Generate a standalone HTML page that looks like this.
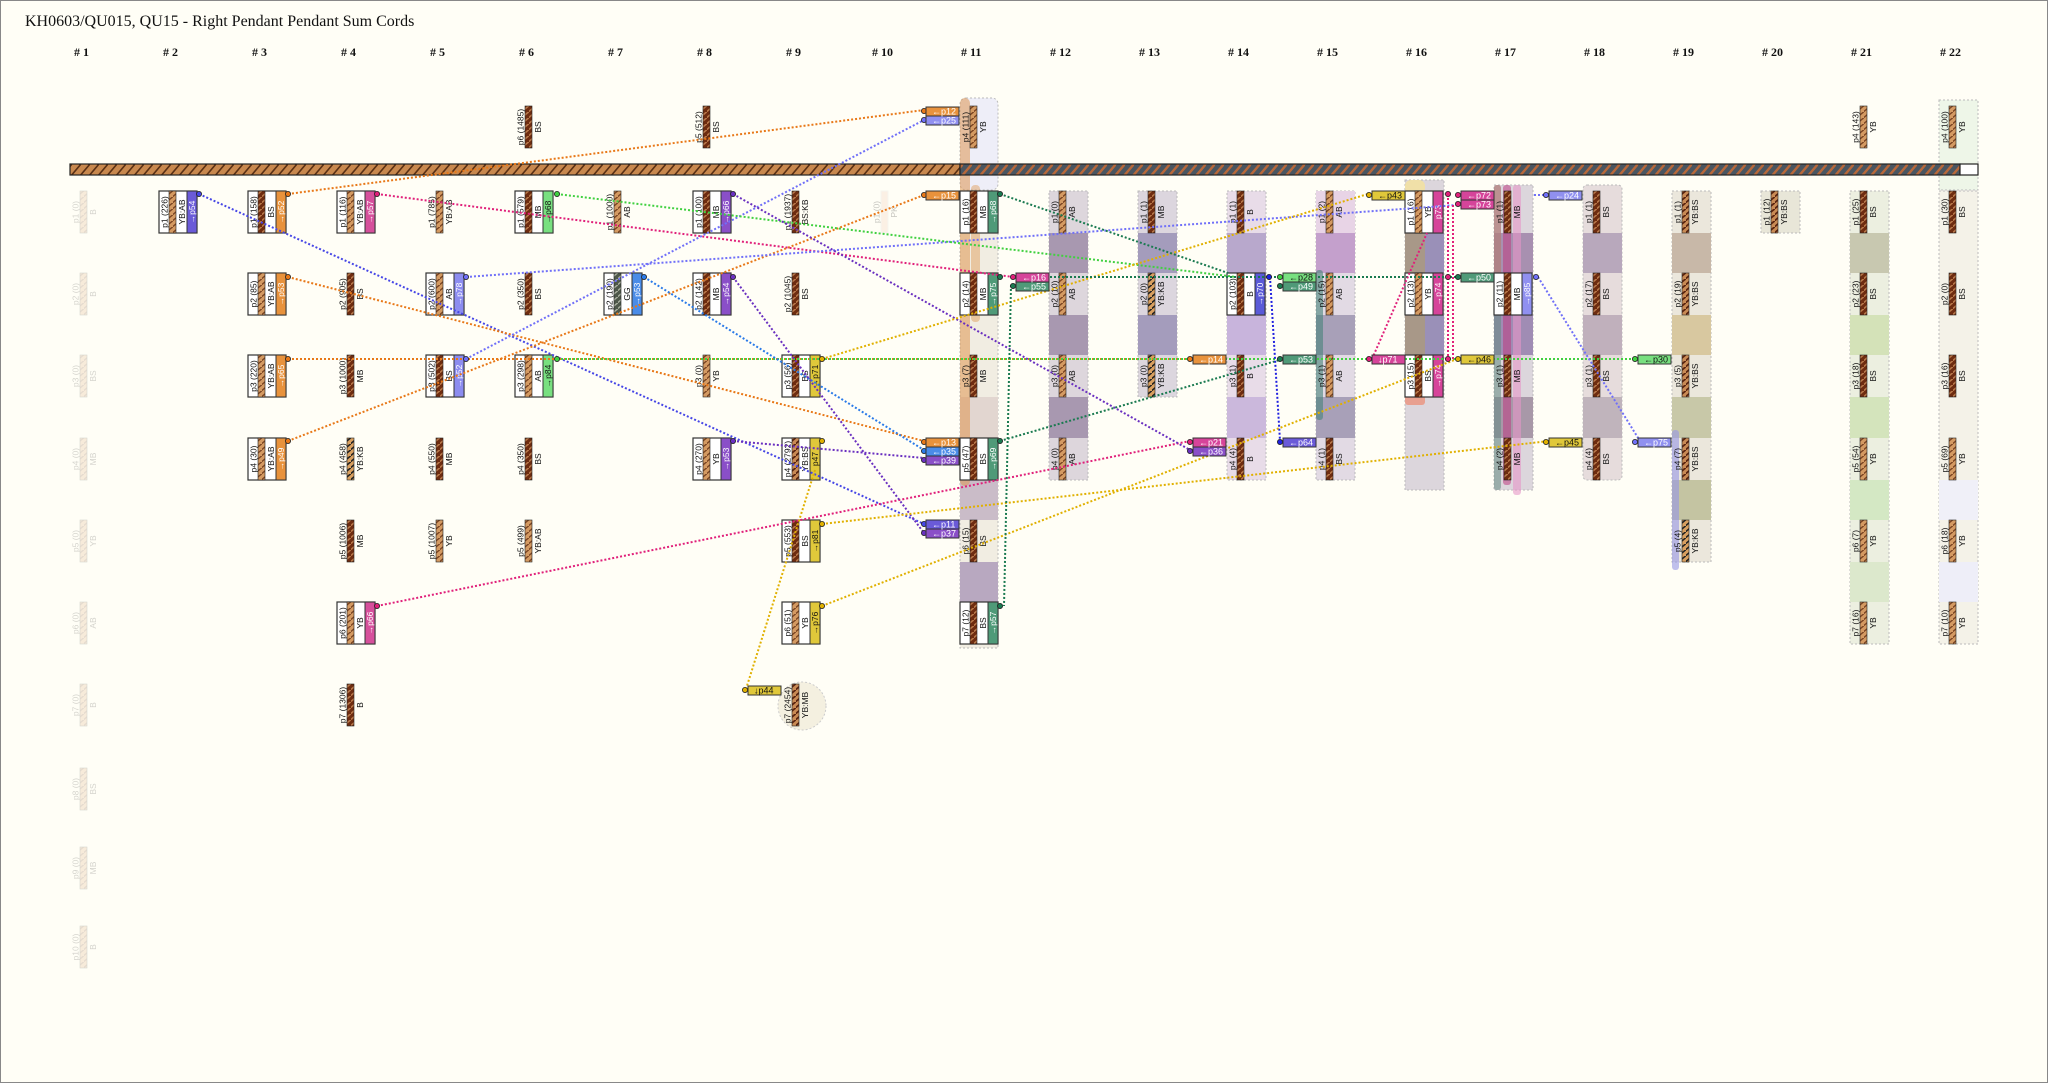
<!DOCTYPE html>
<html><head><meta charset="utf-8"><style>
html,body{margin:0;padding:0;background:#fffef6;}
svg{display:block}
text{font-family:"Liberation Sans",sans-serif;font-size:8.5px;text-anchor:middle;fill:#111}
.w{fill:#fff}
.t{text-anchor:start;fill:#fff;font-size:9px}
.tk{text-anchor:start;fill:#111;font-size:9px}
.h{font-family:"Liberation Serif",serif;font-size:12px;font-weight:bold;text-anchor:start}
.ti{font-family:"Liberation Serif",serif;font-size:16px;text-anchor:start}
.ln{fill:none;stroke-width:2;stroke-dasharray:2 2}
</style></head><body>
<svg width="2048" height="1083" viewBox="0 0 2048 1083" xmlns="http://www.w3.org/2000/svg">
<defs>
<pattern id="pD" width="7" height="6" patternUnits="userSpaceOnUse"><rect width="7" height="6" fill="#6e2c10"/><path d="M-2,7 L9,-2" stroke="#b8784a" stroke-width="1.6"/></pattern>
<pattern id="pL" width="7" height="6" patternUnits="userSpaceOnUse"><rect width="7" height="6" fill="#d49a62"/><path d="M-2,7 L9,-2" stroke="#7a4422" stroke-width="1.4"/></pattern>
<pattern id="pK" width="7" height="6" patternUnits="userSpaceOnUse"><rect width="7" height="6" fill="#d9a060"/><path d="M-2,7 L9,-2" stroke="#222" stroke-width="1.6"/></pattern>
<pattern id="pG" width="7" height="6" patternUnits="userSpaceOnUse"><rect width="7" height="6" fill="#4e584a"/><path d="M-2,7 L9,-2" stroke="#aab0a0" stroke-width="1.4"/></pattern>
<pattern id="pM" width="7" height="6" patternUnits="userSpaceOnUse"><rect width="7" height="6" fill="#c98b55"/><path d="M-2,7 L9,-2" stroke="#5a2410" stroke-width="1.8"/></pattern>
<pattern id="c1" width="9" height="11" patternUnits="userSpaceOnUse"><rect width="9" height="11" fill="#c8884e"/><path d="M-2,12 L9,-1 M7,12 L18,-1" stroke="#5a3014" stroke-width="1.6"/></pattern>
<pattern id="c2" width="9" height="11" patternUnits="userSpaceOnUse"><rect width="9" height="11" fill="#4a5560"/><path d="M-2,12 L9,-1 M7,12 L18,-1" stroke="#b8683a" stroke-width="2.4"/></pattern>
<rect id="bx" width="38" height="42" fill="#fff" stroke="#333" stroke-width="1.2"/>
<rect id="cD" x="10" width="7" height="42" fill="url(#pD)" stroke="#222" stroke-width=".6"/>
<rect id="cL" x="10" width="7" height="42" fill="url(#pL)" stroke="#222" stroke-width=".6"/>
<rect id="cK" x="10" width="7" height="42" fill="url(#pK)" stroke="#222" stroke-width=".6"/>
<rect id="cG" x="10" width="7" height="42" fill="url(#pG)" stroke="#222" stroke-width=".6"/>
<rect id="cM" x="10" width="7" height="42" fill="url(#pM)" stroke="#222" stroke-width=".6"/>
</defs>
<rect x="0.5" y="0.5" width="2047" height="1082" fill="#fffef6" stroke="#888"/>
<text class="ti" x="25" y="26">KH0603/QU015, QU15 - Right Pendant Pendant Sum Cords</text>
<g class="hd">
<text class="h" x="74" y="56"># 1</text><text class="h" x="163" y="56"># 2</text><text class="h" x="252" y="56"># 3</text><text class="h" x="341" y="56"># 4</text><text class="h" x="430" y="56"># 5</text><text class="h" x="519" y="56"># 6</text><text class="h" x="608" y="56"># 7</text><text class="h" x="697" y="56"># 8</text><text class="h" x="786" y="56"># 9</text><text class="h" x="872" y="56"># 10</text><text class="h" x="961" y="56"># 11</text><text class="h" x="1050" y="56"># 12</text><text class="h" x="1139" y="56"># 13</text><text class="h" x="1228" y="56"># 14</text><text class="h" x="1317" y="56"># 15</text><text class="h" x="1406" y="56"># 16</text><text class="h" x="1495" y="56"># 17</text><text class="h" x="1584" y="56"># 18</text><text class="h" x="1673" y="56"># 19</text><text class="h" x="1762" y="56"># 20</text><text class="h" x="1851" y="56"># 21</text><text class="h" x="1940" y="56"># 22</text>
</g>

<!-- backgrounds -->
<g>
<rect x="960" y="98" width="38" height="92" fill="#eeeef8" stroke="#bbb" stroke-dasharray="2 2" rx="6"/>
<rect x="960" y="191" width="38" height="457" fill="#f1ede2" stroke="#bbb" stroke-dasharray="2 2"/>
<rect x="960" y="397" width="38" height="41" fill="#e2d6d0"/><rect x="960" y="480" width="38" height="40" fill="#cabcc8"/><rect x="960" y="562" width="38" height="40" fill="#b8a8c0"/>
<rect x="960" y="98" width="10" height="388" rx="5" fill="rgba(222,150,80,.55)"/>
<rect x="971" y="185" width="9" height="137" rx="4" fill="rgba(222,150,80,.45)"/>

<rect x="1049" y="191" width="39" height="289" fill="#ddd6dc" stroke="#bbb" stroke-dasharray="2 2"/>
<rect x="1049" y="233" width="39" height="40" fill="#a898b0"/><rect x="1049" y="315" width="39" height="40" fill="#a898b0"/><rect x="1049" y="397" width="39" height="41" fill="#a898b0"/>
<rect x="1138" y="191" width="39" height="206" fill="#dcd6de" stroke="#bbb" stroke-dasharray="2 2"/>
<rect x="1138" y="233" width="39" height="40" fill="#a49cbc"/><rect x="1138" y="315" width="39" height="40" fill="#a49cbc"/>
<rect x="1227" y="191" width="39" height="289" fill="#e8dce8" stroke="#bbb" stroke-dasharray="2 2"/>
<rect x="1227" y="233" width="39" height="40" fill="#b8a8cc"/><rect x="1227" y="315" width="39" height="40" fill="#c8b4dc"/><rect x="1227" y="397" width="39" height="41" fill="#cbb8dc"/>
<rect x="1316" y="191" width="39" height="289" fill="#e2dae4" stroke="#bbb" stroke-dasharray="2 2"/>
<rect x="1316" y="191" width="39" height="42" fill="#e8d4e6"/>
<rect x="1316" y="233" width="39" height="40" fill="#c4a0cc"/><rect x="1316" y="315" width="39" height="40" fill="#a8a0b8"/><rect x="1316" y="397" width="39" height="41" fill="#a8a0b8"/>
<rect x="1316" y="270" width="7" height="150" rx="3" fill="rgba(70,130,120,.6)"/>
<rect x="1405" y="180" width="39" height="310" fill="#dcd6dc" stroke="#bbb" stroke-dasharray="2 2"/>
<rect x="1405" y="233" width="20" height="40" fill="#a89888"/><rect x="1425" y="233" width="19" height="40" fill="#9a90b8"/>
<rect x="1405" y="315" width="20" height="40" fill="#a89888"/><rect x="1425" y="315" width="19" height="40" fill="#9a90b8"/>
<rect x="1405" y="180" width="20" height="14" rx="6" fill="#f0e0a8"/>
<rect x="1405" y="395" width="20" height="10" rx="3" fill="#e8a090"/>
<rect x="1494" y="185" width="39" height="305" fill="#dcd6dc" stroke="#bbb" stroke-dasharray="2 2"/>
<rect x="1494" y="233" width="39" height="40" fill="#a890b0"/><rect x="1494" y="315" width="39" height="40" fill="#a08cb4"/><rect x="1494" y="397" width="39" height="41" fill="#a898a8"/>
<rect x="1494" y="185" width="7" height="305" rx="3" fill="rgba(100,140,130,.55)"/>
<rect x="1494" y="185" width="7" height="90" rx="3" fill="rgba(220,120,120,.5)"/>
<rect x="1503" y="185" width="8" height="300" rx="3" fill="rgba(190,60,130,.55)"/>
<rect x="1513" y="185" width="8" height="310" rx="3" fill="rgba(230,150,200,.6)"/>
<rect x="1583" y="185" width="39" height="295" fill="#e6dcdc" stroke="#bbb" stroke-dasharray="2 2" rx="4"/>
<rect x="1583" y="233" width="39" height="40" fill="#b8a8bc"/><rect x="1583" y="315" width="39" height="40" fill="#c0b0bc"/><rect x="1583" y="397" width="39" height="41" fill="#c0b4bc"/>
<rect x="1672" y="191" width="39" height="371" fill="#ebe7dc" stroke="#bbb" stroke-dasharray="2 2"/>
<rect x="1672" y="233" width="39" height="40" fill="#c8b8a8"/><rect x="1672" y="315" width="39" height="40" fill="#d8c8a0"/><rect x="1672" y="397" width="39" height="41" fill="#c8c8a8"/><rect x="1672" y="480" width="39" height="40" fill="#c4c4a2"/>
<rect x="1672" y="430" width="7" height="140" rx="3" fill="rgba(150,150,230,.6)"/>
<rect x="1761" y="191" width="39" height="42" fill="#e8e6d8" stroke="#bbb" stroke-dasharray="2 2"/>
<rect x="1850" y="191" width="39" height="453" fill="#ecefe0" stroke="#bbb" stroke-dasharray="2 2"/>
<rect x="1850" y="233" width="39" height="40" fill="#c8c8b0"/><rect x="1850" y="315" width="39" height="40" fill="#d4e2b8"/><rect x="1850" y="397" width="39" height="41" fill="#d4e4bc"/><rect x="1850" y="480" width="39" height="40" fill="#d4e8c4"/><rect x="1850" y="562" width="39" height="40" fill="#dce8cc"/>
<rect x="1939" y="100" width="39" height="90" fill="#eef6e8" stroke="#bbb" stroke-dasharray="2 2"/>
<rect x="1939" y="191" width="39" height="453" fill="#f4f2e8" stroke="#bbb" stroke-dasharray="2 2"/>
<rect x="1939" y="480" width="39" height="40" fill="#f0f0f8"/><rect x="1939" y="562" width="39" height="40" fill="#eeeef8"/>
<circle cx="802" cy="706" r="24" fill="#f4f0e0" stroke="#ccc" stroke-dasharray="2 2"/>
</g>

<!-- main cord -->
<rect x="70" y="164" width="890" height="11" fill="url(#c1)" stroke="#222" stroke-width="1.2"/>
<rect x="960" y="164" width="1000" height="11" fill="url(#c2)" stroke="#222" stroke-width="1.2"/>
<rect x="1960" y="164" width="18" height="11" fill="#fff" stroke="#222" stroke-width="1.2"/>

<!-- col1 faded -->
<g opacity=".18">
<g transform="translate(70,191)"><use href="#cL"/><text transform="translate(8.5,21)rotate(-90)">p1 (0)</text><text transform="translate(26,21)rotate(-90)">B</text></g>
<g transform="translate(70,273)"><use href="#cL"/><text transform="translate(8.5,21)rotate(-90)">p2 (0)</text><text transform="translate(26,21)rotate(-90)">B</text></g>
<g transform="translate(70,355)"><use href="#cL"/><text transform="translate(8.5,21)rotate(-90)">p3 (0)</text><text transform="translate(26,21)rotate(-90)">BS</text></g>
<g transform="translate(70,438)"><use href="#cL"/><text transform="translate(8.5,21)rotate(-90)">p4 (0)</text><text transform="translate(26,21)rotate(-90)">MB</text></g>
<g transform="translate(70,520)"><use href="#cL"/><text transform="translate(8.5,21)rotate(-90)">p5 (0)</text><text transform="translate(26,21)rotate(-90)">YB</text></g>
<g transform="translate(70,602)"><use href="#cL"/><text transform="translate(8.5,21)rotate(-90)">p6 (0)</text><text transform="translate(26,21)rotate(-90)">AB</text></g>
<g transform="translate(70,684)"><use href="#cL"/><text transform="translate(8.5,21)rotate(-90)">p7 (0)</text><text transform="translate(26,21)rotate(-90)">B</text></g>
<g transform="translate(70,768)"><use href="#cL"/><text transform="translate(8.5,21)rotate(-90)">p8 (0)</text><text transform="translate(26,21)rotate(-90)">BS</text></g>
<g transform="translate(70,847)"><use href="#cL"/><text transform="translate(8.5,21)rotate(-90)">p9 (0)</text><text transform="translate(26,21)rotate(-90)">MB</text></g>
<g transform="translate(70,926)"><use href="#cL"/><text transform="translate(8.5,21)rotate(-90)">p10 (0)</text><text transform="translate(26,21)rotate(-90)">B</text></g>
</g>
<g opacity=".25" transform="translate(871,191)"><rect x="10" width="7" height="42" fill="#f0c8b0" stroke="#ddd"/><text transform="translate(8.5,21)rotate(-90)">p1 (0)</text><text transform="translate(26,21)rotate(-90)">PK</text></g>

<!-- col2 -->
<g transform="translate(159,191)"><use href="#bx"/><use href="#cL"/><rect x="28" width="10" height="42" fill="#6a5ad8" stroke="#333"/><text transform="translate(8.5,21)rotate(-90)">p1 (226)</text><text transform="translate(26,21)rotate(-90)">YB:AB</text><text class="w" transform="translate(36,21)rotate(-90)">→p54</text></g>
<!-- col3 -->
<g transform="translate(248,191)"><use href="#bx"/><use href="#cD"/><rect x="28" width="10" height="42" fill="#e8923c" stroke="#333"/><text transform="translate(8.5,21)rotate(-90)">p1 (158)</text><text transform="translate(26,21)rotate(-90)">BS</text><text class="w" transform="translate(36,21)rotate(-90)">→p52</text></g>
<g transform="translate(248,273)"><use href="#bx"/><use href="#cL"/><rect x="28" width="10" height="42" fill="#e8923c" stroke="#333"/><text transform="translate(8.5,21)rotate(-90)">p2 (85)</text><text transform="translate(26,21)rotate(-90)">YB:AB</text><text class="w" transform="translate(36,21)rotate(-90)">→p53</text></g>
<g transform="translate(248,355)"><use href="#bx"/><use href="#cL"/><rect x="28" width="10" height="42" fill="#e8923c" stroke="#333"/><text transform="translate(8.5,21)rotate(-90)">p3 (220)</text><text transform="translate(26,21)rotate(-90)">YB:AB</text><text class="w" transform="translate(36,21)rotate(-90)">→p65</text></g>
<g transform="translate(248,438)"><use href="#bx"/><use href="#cL"/><rect x="28" width="10" height="42" fill="#e8923c" stroke="#333"/><text transform="translate(8.5,21)rotate(-90)">p4 (30)</text><text transform="translate(26,21)rotate(-90)">YB:AB</text><text class="w" transform="translate(36,21)rotate(-90)">→p49</text></g>
<!-- col4 -->
<g transform="translate(337,191)"><use href="#bx"/><use href="#cL"/><rect x="28" width="10" height="42" fill="#d6509c" stroke="#333"/><text transform="translate(8.5,21)rotate(-90)">p1 (116)</text><text transform="translate(26,21)rotate(-90)">YB:AB</text><text class="w" transform="translate(36,21)rotate(-90)">→p57</text></g>
<g transform="translate(337,273)"><use href="#cD"/><text transform="translate(8.5,21)rotate(-90)">p2 (905)</text><text transform="translate(26,21)rotate(-90)">BS</text></g>
<g transform="translate(337,355)"><use href="#cD"/><text transform="translate(8.5,21)rotate(-90)">p3 (1000)</text><text transform="translate(26,21)rotate(-90)">MB</text></g>
<g transform="translate(337,438)"><use href="#cK"/><text transform="translate(8.5,21)rotate(-90)">p4 (458)</text><text transform="translate(26,21)rotate(-90)">YB:KB</text></g>
<g transform="translate(337,520)"><use href="#cD"/><text transform="translate(8.5,21)rotate(-90)">p5 (1006)</text><text transform="translate(26,21)rotate(-90)">MB</text></g>
<g transform="translate(337,602)"><use href="#bx"/><use href="#cL"/><rect x="28" width="10" height="42" fill="#d6509c" stroke="#333"/><text transform="translate(8.5,21)rotate(-90)">p6 (201)</text><text transform="translate(26,21)rotate(-90)">YB</text><text class="w" transform="translate(36,21)rotate(-90)">→p66</text></g>
<g transform="translate(337,684)"><use href="#cD"/><text transform="translate(8.5,21)rotate(-90)">p7 (1306)</text><text transform="translate(26,21)rotate(-90)">B</text></g>
<!-- col5 -->
<g transform="translate(426,191)"><use href="#cL"/><text transform="translate(8.5,21)rotate(-90)">p1 (785)</text><text transform="translate(26,21)rotate(-90)">YB:AB</text></g>
<g transform="translate(426,273)"><use href="#bx"/><use href="#cL"/><rect x="28" width="10" height="42" fill="#8c8cf0" stroke="#333"/><text transform="translate(8.5,21)rotate(-90)">p2 (600)</text><text transform="translate(26,21)rotate(-90)">AB</text><text class="w" transform="translate(36,21)rotate(-90)">→p78</text></g>
<g transform="translate(426,355)"><use href="#bx"/><use href="#cD"/><rect x="28" width="10" height="42" fill="#8c8cf0" stroke="#333"/><text transform="translate(8.5,21)rotate(-90)">p3 (502)</text><text transform="translate(26,21)rotate(-90)">BS</text><text class="w" transform="translate(36,21)rotate(-90)">→p52</text></g>
<g transform="translate(426,438)"><use href="#cD"/><text transform="translate(8.5,21)rotate(-90)">p4 (550)</text><text transform="translate(26,21)rotate(-90)">MB</text></g>
<g transform="translate(426,520)"><use href="#cL"/><text transform="translate(8.5,21)rotate(-90)">p5 (1007)</text><text transform="translate(26,21)rotate(-90)">YB</text></g>
<!-- col6 -->
<g transform="translate(515,106)"><use href="#cD"/><text transform="translate(8.5,21)rotate(-90)">p6 (1485)</text><text transform="translate(26,21)rotate(-90)">BS</text></g>
<g transform="translate(515,191)"><use href="#bx"/><use href="#cD"/><rect x="28" width="10" height="42" fill="#78e080" stroke="#333"/><text transform="translate(8.5,21)rotate(-90)">p1 (579)</text><text transform="translate(26,21)rotate(-90)">MB</text><text transform="translate(36,21)rotate(-90)">→p68</text></g>
<g transform="translate(515,273)"><use href="#cD"/><text transform="translate(8.5,21)rotate(-90)">p2 (350)</text><text transform="translate(26,21)rotate(-90)">BS</text></g>
<g transform="translate(515,355)"><use href="#bx"/><use href="#cL"/><rect x="28" width="10" height="42" fill="#78e080" stroke="#333"/><text transform="translate(8.5,21)rotate(-90)">p3 (298)</text><text transform="translate(26,21)rotate(-90)">AB</text><text transform="translate(36,21)rotate(-90)">→p84</text></g>
<g transform="translate(515,438)"><use href="#cD"/><text transform="translate(8.5,21)rotate(-90)">p4 (350)</text><text transform="translate(26,21)rotate(-90)">BS</text></g>
<g transform="translate(515,520)"><use href="#cL"/><text transform="translate(8.5,21)rotate(-90)">p5 (499)</text><text transform="translate(26,21)rotate(-90)">YB:AB</text></g>
<!-- col7 -->
<g transform="translate(604,191)"><use href="#cL"/><text transform="translate(8.5,21)rotate(-90)">p1 (1000)</text><text transform="translate(26,21)rotate(-90)">AB</text></g>
<g transform="translate(604,273)"><use href="#bx"/><use href="#cG"/><rect x="28" width="10" height="42" fill="#4a8ce8" stroke="#333"/><text transform="translate(8.5,21)rotate(-90)">p2 (190)</text><text transform="translate(26,21)rotate(-90)">GG</text><text class="w" transform="translate(36,21)rotate(-90)">→p53</text></g>
<!-- col8 -->
<g transform="translate(693,106)"><use href="#cD"/><text transform="translate(8.5,21)rotate(-90)">p5 (512)</text><text transform="translate(26,21)rotate(-90)">BS</text></g>
<g transform="translate(693,191)"><use href="#bx"/><use href="#cD"/><rect x="28" width="10" height="42" fill="#8a4fc8" stroke="#333"/><text transform="translate(8.5,21)rotate(-90)">p1 (100)</text><text transform="translate(26,21)rotate(-90)">MB</text><text class="w" transform="translate(36,21)rotate(-90)">→p66</text></g>
<g transform="translate(693,273)"><use href="#bx"/><use href="#cD"/><rect x="28" width="10" height="42" fill="#8a4fc8" stroke="#333"/><text transform="translate(8.5,21)rotate(-90)">p2 (142)</text><text transform="translate(26,21)rotate(-90)">MB</text><text class="w" transform="translate(36,21)rotate(-90)">→p54</text></g>
<g transform="translate(693,355)"><use href="#cL"/><text transform="translate(8.5,21)rotate(-90)">p3 (0)</text><text transform="translate(26,21)rotate(-90)">YB</text></g>
<g transform="translate(693,438)"><use href="#bx"/><use href="#cL"/><rect x="28" width="10" height="42" fill="#8a4fc8" stroke="#333"/><text transform="translate(8.5,21)rotate(-90)">p4 (270)</text><text transform="translate(26,21)rotate(-90)">YB</text><text class="w" transform="translate(36,21)rotate(-90)">→p53</text></g>
<!-- col9 -->
<g transform="translate(782,191)"><use href="#cD"/><text transform="translate(8.5,21)rotate(-90)">p1 (1937)</text><text transform="translate(26,21)rotate(-90)">BS:KB</text></g>
<g transform="translate(782,273)"><use href="#cD"/><text transform="translate(8.5,21)rotate(-90)">p2 (1045)</text><text transform="translate(26,21)rotate(-90)">BS</text></g>
<g transform="translate(782,355)"><use href="#bx"/><use href="#cD"/><rect x="28" width="10" height="42" fill="#e0c83a" stroke="#333"/><text transform="translate(8.5,21)rotate(-90)">p3 (56)</text><text transform="translate(26,21)rotate(-90)">BS</text><text transform="translate(36,21)rotate(-90)">→p71</text></g>
<g transform="translate(782,438)"><use href="#bx"/><use href="#cM"/><rect x="28" width="10" height="42" fill="#e0c83a" stroke="#333"/><text transform="translate(8.5,21)rotate(-90)">p4 (2792)</text><text transform="translate(26,21)rotate(-90)">YB:BS</text><text transform="translate(36,21)rotate(-90)">p47</text></g>
<g transform="translate(782,520)"><use href="#bx"/><use href="#cD"/><rect x="28" width="10" height="42" fill="#e0c83a" stroke="#333"/><text transform="translate(8.5,21)rotate(-90)">p5 (553)</text><text transform="translate(26,21)rotate(-90)">BS</text><text transform="translate(36,21)rotate(-90)">→p81</text></g>
<g transform="translate(782,602)"><use href="#bx"/><use href="#cL"/><rect x="28" width="10" height="42" fill="#e0c83a" stroke="#333"/><text transform="translate(8.5,21)rotate(-90)">p6 (51)</text><text transform="translate(26,21)rotate(-90)">YB</text><text transform="translate(36,21)rotate(-90)">→p76</text></g>
<g transform="translate(782,684)"><use href="#cM"/><text transform="translate(8.5,21)rotate(-90)">p7 (2454)</text><text transform="translate(26,21)rotate(-90)">YB:MB</text></g>
<!-- col11 -->
<g transform="translate(960,106)"><use href="#cL"/><text transform="translate(8.5,21)rotate(-90)">p4 (111)</text><text transform="translate(26,21)rotate(-90)">YB</text></g>
<g transform="translate(960,191)"><use href="#bx"/><use href="#cD"/><rect x="28" width="10" height="42" fill="#4f9a78" stroke="#333"/><text transform="translate(8.5,21)rotate(-90)">p1 (16)</text><text transform="translate(26,21)rotate(-90)">MB</text><text class="w" transform="translate(36,21)rotate(-90)">→p68</text></g>
<g transform="translate(960,273)"><use href="#bx"/><use href="#cD"/><rect x="28" width="10" height="42" fill="#4f9a78" stroke="#333"/><text transform="translate(8.5,21)rotate(-90)">p2 (14)</text><text transform="translate(26,21)rotate(-90)">MB</text><text class="w" transform="translate(36,21)rotate(-90)">→p75</text></g>
<g transform="translate(960,355)"><use href="#cD"/><text transform="translate(8.5,21)rotate(-90)">p3 (7)</text><text transform="translate(26,21)rotate(-90)">MB</text></g>
<g transform="translate(960,438)"><use href="#bx"/><use href="#cD"/><rect x="28" width="10" height="42" fill="#4f9a78" stroke="#333"/><text transform="translate(8.5,21)rotate(-90)">p5 (47)</text><text transform="translate(26,21)rotate(-90)">BS</text><text class="w" transform="translate(36,21)rotate(-90)">→p69</text></g>
<g transform="translate(960,520)"><use href="#cD"/><text transform="translate(8.5,21)rotate(-90)">p6 (15)</text><text transform="translate(26,21)rotate(-90)">BS</text></g>
<g transform="translate(960,602)"><use href="#bx"/><use href="#cD"/><rect x="28" width="10" height="42" fill="#4f9a78" stroke="#333"/><text transform="translate(8.5,21)rotate(-90)">p7 (12)</text><text transform="translate(26,21)rotate(-90)">BS</text><text class="w" transform="translate(36,21)rotate(-90)">→p57</text></g>
<!-- col12 -->
<g transform="translate(1049,191)"><use href="#cL"/><text transform="translate(8.5,21)rotate(-90)">p1 (0)</text><text transform="translate(26,21)rotate(-90)">AB</text></g>
<g transform="translate(1049,273)"><use href="#cL"/><text transform="translate(8.5,21)rotate(-90)">p2 (10)</text><text transform="translate(26,21)rotate(-90)">AB</text></g>
<g transform="translate(1049,355)"><use href="#cL"/><text transform="translate(8.5,21)rotate(-90)">p3 (0)</text><text transform="translate(26,21)rotate(-90)">AB</text></g>
<g transform="translate(1049,438)"><use href="#cL"/><text transform="translate(8.5,21)rotate(-90)">p4 (0)</text><text transform="translate(26,21)rotate(-90)">AB</text></g>
<!-- col13 -->
<g transform="translate(1138,191)"><use href="#cD"/><text transform="translate(8.5,21)rotate(-90)">p1 (1)</text><text transform="translate(26,21)rotate(-90)">MB</text></g>
<g transform="translate(1138,273)"><use href="#cK"/><text transform="translate(8.5,21)rotate(-90)">p2 (0)</text><text transform="translate(26,21)rotate(-90)">YB:KB</text></g>
<g transform="translate(1138,355)"><use href="#cK"/><text transform="translate(8.5,21)rotate(-90)">p3 (0)</text><text transform="translate(26,21)rotate(-90)">YB:KB</text></g>
<!-- col14 -->
<g transform="translate(1227,191)"><use href="#cD"/><text transform="translate(8.5,21)rotate(-90)">p1 (1)</text><text transform="translate(26,21)rotate(-90)">B</text></g>
<g transform="translate(1227,273)"><use href="#bx"/><use href="#cD"/><rect x="28" width="10" height="42" fill="#5a5ad8" stroke="#333"/><text transform="translate(8.5,21)rotate(-90)">p2 (103)</text><text transform="translate(26,21)rotate(-90)">B</text><text class="w" transform="translate(36,21)rotate(-90)">→p70</text></g>
<g transform="translate(1227,355)"><use href="#cD"/><text transform="translate(8.5,21)rotate(-90)">p3 (1)</text><text transform="translate(26,21)rotate(-90)">B</text></g>
<g transform="translate(1227,438)"><use href="#cD"/><text transform="translate(8.5,21)rotate(-90)">p4 (4)</text><text transform="translate(26,21)rotate(-90)">B</text></g>
<!-- col15 -->
<g transform="translate(1316,191)"><use href="#cL"/><text transform="translate(8.5,21)rotate(-90)">p1 (2)</text><text transform="translate(26,21)rotate(-90)">AB</text></g>
<g transform="translate(1316,273)"><use href="#cL"/><text transform="translate(8.5,21)rotate(-90)">p2 (15)</text><text transform="translate(26,21)rotate(-90)">AB</text></g>
<g transform="translate(1316,355)"><use href="#cL"/><text transform="translate(8.5,21)rotate(-90)">p3 (1)</text><text transform="translate(26,21)rotate(-90)">AB</text></g>
<g transform="translate(1316,438)"><use href="#cD"/><text transform="translate(8.5,21)rotate(-90)">p4 (1)</text><text transform="translate(26,21)rotate(-90)">BS</text></g>
<!-- col16 -->
<g transform="translate(1405,191)"><use href="#bx"/><use href="#cL"/><rect x="28" width="10" height="42" fill="#d6449a" stroke="#333"/><text transform="translate(8.5,21)rotate(-90)">p1 (16)</text><text transform="translate(26,21)rotate(-90)">YB</text><text class="w" transform="translate(36,21)rotate(-90)">p73</text></g>
<g transform="translate(1405,273)"><use href="#bx"/><use href="#cL"/><rect x="28" width="10" height="42" fill="#d6449a" stroke="#333"/><text transform="translate(8.5,21)rotate(-90)">p2 (13)</text><text transform="translate(26,21)rotate(-90)">YB</text><text class="w" transform="translate(36,21)rotate(-90)">→p74</text></g>
<g transform="translate(1405,355)"><use href="#bx"/><use href="#cD"/><rect x="28" width="10" height="42" fill="#d6449a" stroke="#333"/><text transform="translate(8.5,21)rotate(-90)">p3 (15)</text><text transform="translate(26,21)rotate(-90)">BS</text><text class="w" transform="translate(36,21)rotate(-90)">→p74</text></g>
<!-- col17 -->
<g transform="translate(1494,191)"><use href="#cD"/><text transform="translate(8.5,21)rotate(-90)">p1 (1)</text><text transform="translate(26,21)rotate(-90)">MB</text></g>
<g transform="translate(1494,273)"><use href="#bx"/><use href="#cD"/><rect x="28" width="10" height="42" fill="#9090f0" stroke="#333"/><text transform="translate(8.5,21)rotate(-90)">p2 (11)</text><text transform="translate(26,21)rotate(-90)">MB</text><text class="w" transform="translate(36,21)rotate(-90)">→p85</text></g>
<g transform="translate(1494,355)"><use href="#cD"/><text transform="translate(8.5,21)rotate(-90)">p3 (1)</text><text transform="translate(26,21)rotate(-90)">MB</text></g>
<g transform="translate(1494,438)"><use href="#cD"/><text transform="translate(8.5,21)rotate(-90)">p4 (2)</text><text transform="translate(26,21)rotate(-90)">MB</text></g>
<!-- col18 -->
<g transform="translate(1583,191)"><use href="#cD"/><text transform="translate(8.5,21)rotate(-90)">p1 (1)</text><text transform="translate(26,21)rotate(-90)">BS</text></g>
<g transform="translate(1583,273)"><use href="#cD"/><text transform="translate(8.5,21)rotate(-90)">p2 (17)</text><text transform="translate(26,21)rotate(-90)">BS</text></g>
<g transform="translate(1583,355)"><use href="#cD"/><text transform="translate(8.5,21)rotate(-90)">p3 (1)</text><text transform="translate(26,21)rotate(-90)">BS</text></g>
<g transform="translate(1583,438)"><use href="#cD"/><text transform="translate(8.5,21)rotate(-90)">p4 (4)</text><text transform="translate(26,21)rotate(-90)">BS</text></g>
<!-- col19 -->
<g transform="translate(1672,191)"><use href="#cM"/><text transform="translate(8.5,21)rotate(-90)">p1 (1)</text><text transform="translate(26,21)rotate(-90)">YB:BS</text></g>
<g transform="translate(1672,273)"><use href="#cM"/><text transform="translate(8.5,21)rotate(-90)">p2 (19)</text><text transform="translate(26,21)rotate(-90)">YB:BS</text></g>
<g transform="translate(1672,355)"><use href="#cM"/><text transform="translate(8.5,21)rotate(-90)">p3 (5)</text><text transform="translate(26,21)rotate(-90)">YB:BS</text></g>
<g transform="translate(1672,438)"><use href="#cM"/><text transform="translate(8.5,21)rotate(-90)">p4 (7)</text><text transform="translate(26,21)rotate(-90)">YB:BS</text></g>
<g transform="translate(1672,520)"><use href="#cK"/><text transform="translate(8.5,21)rotate(-90)">p5 (4)</text><text transform="translate(26,21)rotate(-90)">YB:KB</text></g>
<!-- col20 -->
<g transform="translate(1761,191)"><use href="#cM"/><text transform="translate(8.5,21)rotate(-90)">p1 (12)</text><text transform="translate(26,21)rotate(-90)">YB:BS</text></g>
<!-- col21 -->
<g transform="translate(1850,106)"><use href="#cL"/><text transform="translate(8.5,21)rotate(-90)">p4 (143)</text><text transform="translate(26,21)rotate(-90)">YB</text></g>
<g transform="translate(1850,191)"><use href="#cD"/><text transform="translate(8.5,21)rotate(-90)">p1 (25)</text><text transform="translate(26,21)rotate(-90)">BS</text></g>
<g transform="translate(1850,273)"><use href="#cD"/><text transform="translate(8.5,21)rotate(-90)">p2 (23)</text><text transform="translate(26,21)rotate(-90)">BS</text></g>
<g transform="translate(1850,355)"><use href="#cD"/><text transform="translate(8.5,21)rotate(-90)">p3 (18)</text><text transform="translate(26,21)rotate(-90)">BS</text></g>
<g transform="translate(1850,438)"><use href="#cL"/><text transform="translate(8.5,21)rotate(-90)">p5 (54)</text><text transform="translate(26,21)rotate(-90)">YB</text></g>
<g transform="translate(1850,520)"><use href="#cL"/><text transform="translate(8.5,21)rotate(-90)">p6 (7)</text><text transform="translate(26,21)rotate(-90)">YB</text></g>
<g transform="translate(1850,602)"><use href="#cL"/><text transform="translate(8.5,21)rotate(-90)">p7 (16)</text><text transform="translate(26,21)rotate(-90)">YB</text></g>
<!-- col22 -->
<g transform="translate(1939,106)"><use href="#cL"/><text transform="translate(8.5,21)rotate(-90)">p4 (100)</text><text transform="translate(26,21)rotate(-90)">YB</text></g>
<g transform="translate(1939,191)"><use href="#cD"/><text transform="translate(8.5,21)rotate(-90)">p1 (30)</text><text transform="translate(26,21)rotate(-90)">BS</text></g>
<g transform="translate(1939,273)"><use href="#cD"/><text transform="translate(8.5,21)rotate(-90)">p2 (0)</text><text transform="translate(26,21)rotate(-90)">BS</text></g>
<g transform="translate(1939,355)"><use href="#cD"/><text transform="translate(8.5,21)rotate(-90)">p3 (16)</text><text transform="translate(26,21)rotate(-90)">BS</text></g>
<g transform="translate(1939,438)"><use href="#cL"/><text transform="translate(8.5,21)rotate(-90)">p5 (69)</text><text transform="translate(26,21)rotate(-90)">YB</text></g>
<g transform="translate(1939,520)"><use href="#cL"/><text transform="translate(8.5,21)rotate(-90)">p6 (18)</text><text transform="translate(26,21)rotate(-90)">YB</text></g>
<g transform="translate(1939,602)"><use href="#cL"/><text transform="translate(8.5,21)rotate(-90)">p7 (10)</text><text transform="translate(26,21)rotate(-90)">YB</text></g>

<!-- connectors -->
<g class="ln">
<path stroke="#4646e6" d="M199,194 L924,524"/>
<path stroke="#e87818" d="M288,194 L924,110"/>
<path stroke="#e87818" d="M288,277 L924,441"/>
<path stroke="#e87818" d="M288,359 L1192,359"/>
<path stroke="#e87818" d="M288,441 L924,195"/>
<path stroke="#e0207a" d="M377,194 L1013,277"/>
<path stroke="#e0207a" d="M377,606 L1190,441"/>
<path stroke="#7070f8" d="M466,277 L1457,205"/>
<path stroke="#7070f8" d="M466,359 L924,120"/>
<path stroke="#40d040" d="M557,194 L1236,277"/>
<path stroke="#40d040" d="M557,359 L1638,359"/>
<path stroke="#2a7ae8" d="M644,277 L924,450"/>
<path stroke="#6a30c0" d="M733,194 L1190,450"/>
<path stroke="#6a30c0" d="M733,277 L924,533"/>
<path stroke="#6a30c0" d="M733,441 L924,458"/>
<path stroke="#e0b000" d="M822,359 L1368,194"/>
<path stroke="#e0b000" d="M815,470 L746,689"/>
<path stroke="#e0b000" d="M822,524 L1549,441"/>
<path stroke="#e0b000" d="M822,606 L1457,359"/>
<path stroke="#1a7a50" d="M1000,194 L1228,273"/>
<path stroke="#1a7a50" d="M1011,285 L1004,606"/>
<path stroke="#1a7a50" d="M1050,277 L1460,277"/>
<path stroke="#1a7a50" d="M1000,441 L1283,359"/>
<path stroke="#2020e0" d="M1270,277 L1280,441"/>
<path stroke="#e0207a" d="M1448,194 L1448,359 M1453,205 L1453,359 M1372,359 L1427,233"/>
<path stroke="#7070f8" d="M1538,277 L1640,441 M1534,195 L1549,195"/>
</g>
<g stroke="#222" stroke-width=".8">
<circle cx="199" cy="194" r="2.6" fill="#4646e6"/><circle cx="288" cy="194" r="2.6" fill="#e87818"/><circle cx="288" cy="277" r="2.6" fill="#e87818"/><circle cx="288" cy="359" r="2.6" fill="#e87818"/><circle cx="288" cy="441" r="2.6" fill="#e87818"/>
<circle cx="377" cy="194" r="2.6" fill="#e0207a"/><circle cx="377" cy="606" r="2.6" fill="#e0207a"/><circle cx="466" cy="277" r="2.6" fill="#7070f8"/><circle cx="466" cy="359" r="2.6" fill="#7070f8"/>
<circle cx="557" cy="194" r="2.6" fill="#40d040"/><circle cx="557" cy="359" r="2.6" fill="#40d040"/><circle cx="644" cy="277" r="2.6" fill="#2a7ae8"/>
<circle cx="733" cy="194" r="2.6" fill="#6a30c0"/><circle cx="733" cy="277" r="2.6" fill="#6a30c0"/><circle cx="733" cy="441" r="2.6" fill="#6a30c0"/>
<circle cx="822" cy="359" r="2.6" fill="#e0b000"/><circle cx="822" cy="441" r="2.6" fill="#e0b000"/><circle cx="822" cy="524" r="2.6" fill="#e0b000"/><circle cx="822" cy="606" r="2.6" fill="#e0b000"/>
<circle cx="1000" cy="194" r="2.6" fill="#1a7a50"/><circle cx="1000" cy="277" r="2.6" fill="#1a7a50"/><circle cx="1000" cy="441" r="2.6" fill="#1a7a50"/><circle cx="1000" cy="606" r="2.6" fill="#1a7a50"/>
<circle cx="1269" cy="277" r="2.6" fill="#2020e0"/><circle cx="1448" cy="194" r="2.6" fill="#e0207a"/><circle cx="1448" cy="277" r="2.6" fill="#e0207a"/><circle cx="1448" cy="359" r="2.6" fill="#e0207a"/>
<circle cx="1536" cy="277" r="2.6" fill="#7070f8"/>
<circle cx="924" cy="111" r="2.6" fill="#e87818"/><circle cx="924" cy="120" r="2.6" fill="#7070f8"/><circle cx="924" cy="195" r="2.6" fill="#e87818"/>
<circle cx="1013" cy="277" r="2.6" fill="#e0207a"/><circle cx="1013" cy="286" r="2.6" fill="#1a7a50"/>
<circle cx="924" cy="442" r="2.6" fill="#e87818"/><circle cx="924" cy="451" r="2.6" fill="#2a7ae8"/><circle cx="924" cy="460" r="2.6" fill="#6a30c0"/>
<circle cx="924" cy="524" r="2.6" fill="#4646e6"/><circle cx="924" cy="533" r="2.6" fill="#6a30c0"/>
<circle cx="1280" cy="277" r="2.6" fill="#40d040"/><circle cx="1280" cy="286" r="2.6" fill="#1a7a50"/><circle cx="1190" cy="359" r="2.6" fill="#e87818"/><circle cx="1280" cy="359" r="2.6" fill="#1a7a50"/>
<circle cx="1190" cy="442" r="2.6" fill="#e0207a"/><circle cx="1190" cy="451" r="2.6" fill="#6a30c0"/><circle cx="1280" cy="442" r="2.6" fill="#2020e0"/>
<circle cx="1369" cy="195" r="2.6" fill="#e0b000"/><circle cx="1369" cy="359" r="2.6" fill="#e0207a"/>
<circle cx="1458" cy="195" r="2.6" fill="#e0207a"/><circle cx="1458" cy="204" r="2.6" fill="#e0207a"/><circle cx="1458" cy="277" r="2.6" fill="#1a7a50"/><circle cx="1458" cy="359" r="2.6" fill="#e0b000"/>
<circle cx="1546" cy="195" r="2.6" fill="#7070f8"/><circle cx="1546" cy="442" r="2.6" fill="#e0b000"/><circle cx="1635" cy="359" r="2.6" fill="#40d040"/><circle cx="1635" cy="442" r="2.6" fill="#7070f8"/>
<circle cx="745" cy="690" r="2.6" fill="#e0b000"/>
</g>

<!-- tags -->
<g stroke="#333" stroke-width="1">
<rect x="926" y="107" width="33" height="9" fill="#e8923c"/><rect x="926" y="116" width="33" height="9" fill="#9090f0"/>
<rect x="926" y="191" width="33" height="9" fill="#e8923c"/>
<rect x="1016" y="273" width="33" height="9" fill="#d6449a"/><rect x="1016" y="282" width="33" height="9" fill="#4f9a78"/>
<rect x="926" y="438" width="33" height="9" fill="#e8923c"/><rect x="926" y="447" width="33" height="9" fill="#4a8ce8"/><rect x="926" y="456" width="33" height="9" fill="#8a4fc8"/>
<rect x="926" y="520" width="33" height="9" fill="#6a5ad8"/><rect x="926" y="529" width="33" height="9" fill="#8a4fc8"/>
<rect x="1283" y="273" width="33" height="9" fill="#78e080"/><rect x="1283" y="282" width="33" height="9" fill="#4f9a78"/>
<rect x="1193" y="355" width="33" height="9" fill="#e8923c"/><rect x="1283" y="355" width="33" height="9" fill="#4f9a78"/>
<rect x="1193" y="438" width="33" height="9" fill="#d6449a"/><rect x="1193" y="447" width="33" height="9" fill="#8a4fc8"/>
<rect x="1283" y="438" width="33" height="9" fill="#6a5ad8"/>
<rect x="1372" y="191" width="33" height="9" fill="#e0c83a"/><rect x="1372" y="355" width="33" height="9" fill="#d6449a"/>
<rect x="1461" y="191" width="33" height="9" fill="#d6449a"/><rect x="1461" y="200" width="33" height="9" fill="#d6449a"/>
<rect x="1461" y="273" width="33" height="9" fill="#4f9a78"/><rect x="1461" y="355" width="33" height="9" fill="#e0c83a"/>
<rect x="1549" y="191" width="33" height="9" fill="#9090f0"/><rect x="1549" y="438" width="33" height="9" fill="#e0c83a"/>
<rect x="1638" y="355" width="33" height="9" fill="#78e080"/><rect x="1638" y="438" width="33" height="9" fill="#9090f0"/>
<rect x="748" y="686" width="33" height="9" fill="#e0c83a"/>
</g>
<g>
<text class="t" x="932" y="114.5">←p12</text><text class="t" x="932" y="123.5">←p25</text>
<text class="t" x="932" y="198.5">←p15</text>
<text class="t" x="1022" y="280.5">←p16</text><text class="t" x="1022" y="289.5">←p55</text>
<text class="t" x="932" y="445.5">←p13</text><text class="t" x="932" y="454.5">←p35</text><text class="t" x="932" y="463.5">←p39</text>
<text class="t" x="932" y="527.5">←p11</text><text class="t" x="932" y="536.5">←p37</text>
<text class="tk" x="1289" y="280.5">←p28</text><text class="t" x="1289" y="289.5">←p49</text>
<text class="t" x="1199" y="362.5">←p14</text><text class="t" x="1289" y="362.5">←p53</text>
<text class="t" x="1199" y="445.5">←p21</text><text class="t" x="1199" y="454.5">←p36</text>
<text class="t" x="1289" y="445.5">←p64</text>
<text class="tk" x="1378" y="198.5">←p43</text><text class="t" x="1378" y="362.5">↓p71</text>
<text class="t" x="1467" y="198.5">←p72</text><text class="t" x="1467" y="207.5">←p73</text>
<text class="t" x="1467" y="280.5">←p50</text><text class="tk" x="1467" y="362.5">←p46</text>
<text class="t" x="1555" y="198.5">←p24</text><text class="tk" x="1555" y="445.5">←p45</text>
<text class="tk" x="1644" y="362.5">←p30</text><text class="t" x="1644" y="445.5">←p75</text>
<text class="tk" x="754" y="693.5">↓p44</text>
</g>
</svg>
</body></html>
